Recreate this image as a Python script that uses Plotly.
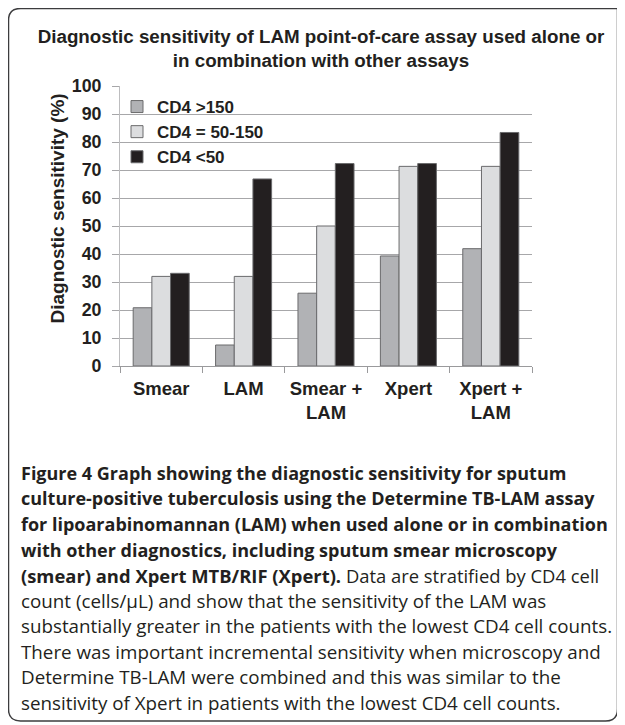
import plotly.graph_objects as go

categories = ["Smear", "LAM", "Smear +<br>LAM", "Xpert", "Xpert +<br>LAM"]
series_names = ["CD4 >150", "CD4 = 50-150", "CD4 <50"]
cd4_over_150 = [20.8, 7.5, 26.0, 39.3, 41.9]
cd4_50_150 = [32.0, 32.0, 50.0, 71.3, 71.3]
cd4_under_50 = [33.1, 66.8, 72.3, 72.3, 83.4]
y_ticks = [0, 10, 20, 30, 40, 50, 60, 70, 80, 90, 100]

title_lines = ["Diagnostic sensitivity of LAM point-of-care assay used alone or",
               "in combination with other assays"]
y_title = "Diagnostic sensitivity (%)"
caption_lines = [
    "<b>Figure 4 Graph showing the diagnostic sensitivity for sputum</b>",
    "<b>culture-positive tuberculosis using the Determine TB-LAM assay</b>",
    "<b>for lipoarabinomannan (LAM) when used alone or in combination</b>",
    "<b>with other diagnostics, including sputum smear microscopy</b>",
    "<b>(smear) and Xpert MTB/RIF (Xpert).</b> Data are stratified by CD4 cell",
    "count (cells/\u03bcL) and show that the sensitivity of the LAM was",
    "substantially greater in the patients with the lowest CD4 cell counts.",
    "There was important incremental sensitivity when microscopy and",
    "Determine TB-LAM were combined and this was similar to the",
    "sensitivity of Xpert in patients with the lowest CD4 cell counts.",
]

colors = ["#b1b2b5", "#dcdddf", "#231f20"]
W, H = 625, 725
OFF = 8  # page body margin
L, R, T, B = 120 - OFF, 532 - OFF, 86 - OFF, 366 - OFF  # plot area in figure pixels
pw, ph = R - L, B - T

def px(x):  # x measured on the page -> paper coordinate
    return (x - OFF - L) / pw

def py(y):
    return (B - (y - OFF)) / ph

fig = go.Figure()
for name, vals, col in zip(series_names, [cd4_over_150, cd4_50_150, cd4_under_50], colors):
    fig.add_trace(go.Bar(x=categories, y=vals, name=name,
                         marker=dict(color=col, line=dict(color="#6a6a6c", width=1))))

chart_font = "Liberation Sans, Arial, sans-serif"
fig.update_layout(
    width=W, height=H,
    margin=dict(l=L, r=W - R, t=T, b=H - B, pad=0),
    paper_bgcolor="white", plot_bgcolor="white",
    barmode="group", bargap=0.32, bargroupgap=0,
    font=dict(family=chart_font, color="#231f20"),
    title=dict(text="<br>".join(title_lines), x=(321 - OFF) / W, xanchor="center", xref="container",
               y=1 - 35 / H, yanchor="middle", yref="container",
               font=dict(family=chart_font, size=18.8, weight="bold", color="#231f20")),
    legend=dict(x=px(117), y=py(89), xanchor="left", yanchor="top", bgcolor="rgba(0,0,0,0)",
                font=dict(family=chart_font, size=17, weight="bold", color="#231f20"),
                itemwidth=30, tracegroupgap=0),
    showlegend=True,
)
fig.update_yaxes(range=[0, 100], tickvals=y_ticks, showgrid=True, gridcolor="#a7a7a9", gridwidth=1,
                 showline=True, linecolor="#bdbdbf", linewidth=1, ticks="outside", ticklen=7,
                 tickcolor="#a7a7a9", ticklabelstandoff=7, zeroline=False,
                 tickfont=dict(family=chart_font, size=17.8, weight="bold", color="#231f20"))
fig.update_xaxes(showline=True, linecolor="#9a9a9c", linewidth=1, ticks="outside", tickson="boundaries",
                 ticklen=6, tickcolor="#9a9a9c", ticklabelstandoff=6,
                 tickfont=dict(family=chart_font, size=18.5, weight="bold", color="#231f20"))

# y-axis title
fig.add_annotation(text=y_title, textangle=-90, x=px(57), y=py(208.5), xref="paper", yref="paper",
                   showarrow=False, xanchor="center", yanchor="middle",
                   font=dict(family=chart_font, size=19, weight="bold", color="#231f20"))

# rounded outer box
x0, x1, y0, y1 = px(8.5), px(617.5), py(8.5), py(721)
rx, ry = 12 / pw, 12 / ph
path = (f"M {x0+rx},{y0} L {x1},{y0} L {x1},{y1+ry} Q {x1},{y1} {x1-rx},{y1} "
        f"L {x0+rx},{y1} Q {x0},{y1} {x0},{y1+ry} L {x0},{y0-ry} Q {x0},{y0} {x0+rx},{y0} Z")
fig.add_shape(type="path", path=path, xref="paper", yref="paper",
              line=dict(color="#3c3c3e", width=1.5), layer="below")

# caption
cap_font = "Open Sans, Noto Sans, sans-serif"
y_first, spacing = 473, 25.5
for i, line in enumerate(caption_lines):
    size = 18.0 if i < 4 else (18.4 if i == 4 else 18.8)
    fig.add_annotation(text=line, x=px(19), y=py(y_first + i * spacing), xref="paper", yref="paper",
                       showarrow=False, xanchor="left", yanchor="middle", align="left",
                       font=dict(family=cap_font, size=size, color="#231f20"))

fig.write_html("out.html")
